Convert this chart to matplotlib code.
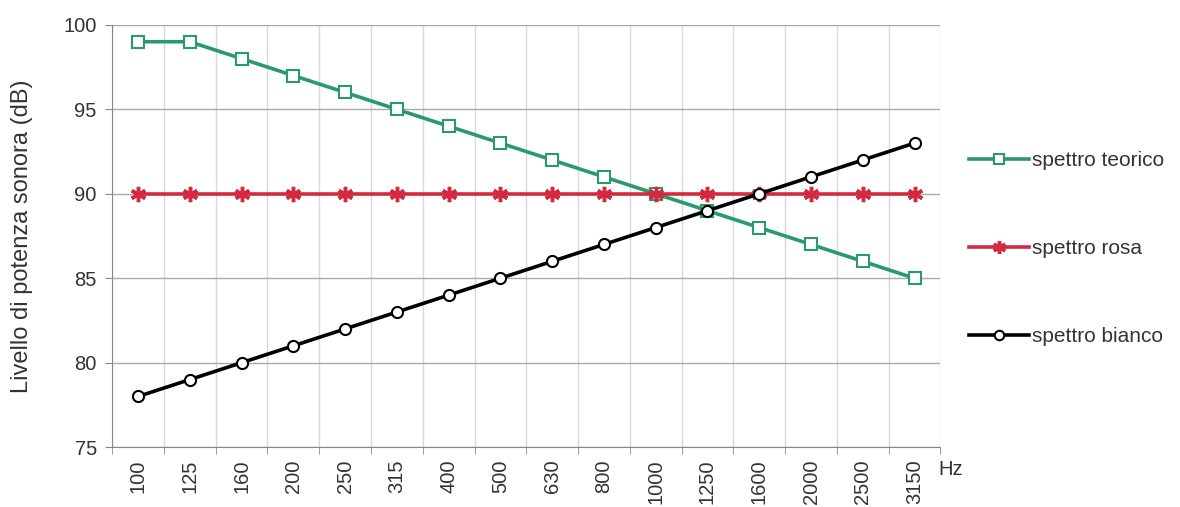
import matplotlib
matplotlib.use("Agg")
import matplotlib.pyplot as plt

# ========================= data ==============================================

bands = ["100", "125", "160", "200", "250", "315", "400", "500",
         "630", "800", "1000", "1250", "1600", "2000", "2500", "3150"]
teorico = [99, 99, 98, 97, 96, 95, 94, 93, 92, 91, 90, 89, 88, 87, 86, 85]
rosa = [90, 90, 90, 90, 90, 90, 90, 90, 90, 90, 90, 90, 90, 90, 90, 90]
bianco = [78, 79, 80, 81, 82, 83, 84, 85, 86, 87, 88, 89, 90, 91, 92, 93]

green = "#2a9a6c"
red = "#d42a40"
text_color = "#333333"

# ========================= plot ==============================================

plt.rcParams['font.family'] = ['Liberation Sans', 'DejaVu Sans']

fig = plt.figure(figsize=(11.8, 5.07), dpi=100)
ax = fig.add_axes([0.095, 0.118, 0.702, 0.833])

x = list(range(len(bands)))
ax.plot(x, teorico, '-', color=green, lw=2.6, marker='s', markersize=8.5,
        markerfacecolor='white', markeredgecolor=green, markeredgewidth=1.5,
        label='spettro teorico', zorder=3)
ax.plot(x, rosa, '-', color=red, lw=2.6, marker=(6, 2, 0), markersize=11,
        markeredgecolor=red, markeredgewidth=2.5,
        label='spettro rosa', zorder=3)
ax.plot(x, bianco, '-', color='black', lw=2.6, marker='o', markersize=8,
        markerfacecolor='white', markeredgecolor='black', markeredgewidth=1.5,
        label='spettro bianco', zorder=3)

# axes

ax.set_xlim(-0.5, len(bands) - 0.5)
ax.set_ylim(75, 100)
ax.set_yticks([75, 80, 85, 90, 95, 100])
ax.set_xticks(x)
ax.set_xticklabels(bands, rotation=90, fontsize=14.5, color=text_color)
ax.set_xticks([i + 0.5 for i in range(-1, len(bands))], minor=True)
ax.tick_params(axis='x', which='major', length=0, pad=9)
ax.tick_params(axis='x', which='minor', length=5, color='#888888')
ax.tick_params(axis='y', length=5, color='#888888', labelsize=14.5,
               labelcolor=text_color, pad=6)

ax.grid(True, axis='y', color='#aaaaaa', lw=1)
ax.grid(True, axis='x', which='minor', color='#d8d8d8', lw=1)
for side in ['top', 'right']:
    ax.spines[side].set_visible(False)
for side in ['left', 'bottom']:
    ax.spines[side].set_color('#888888')

ax.set_ylabel('Livello di potenza sonora (dB)', fontsize=17, color=text_color)
ax.yaxis.set_label_coords(-0.095, 0.5)
ax.text(0.997, -0.054, 'Hz', transform=ax.transAxes, fontsize=14.5,
        color=text_color, va='center', ha='left')

leg = ax.legend(loc='center left', bbox_to_anchor=(1.034, 0.47), frameon=False,
                fontsize=15, labelspacing=3.3, handlelength=2.9,
                handletextpad=0.15, borderaxespad=0, borderpad=0,
                markerscale=0.85)
for t in leg.get_texts():
    t.set_color(text_color)

# save figure

plt.savefig('out.png', dpi=100)
